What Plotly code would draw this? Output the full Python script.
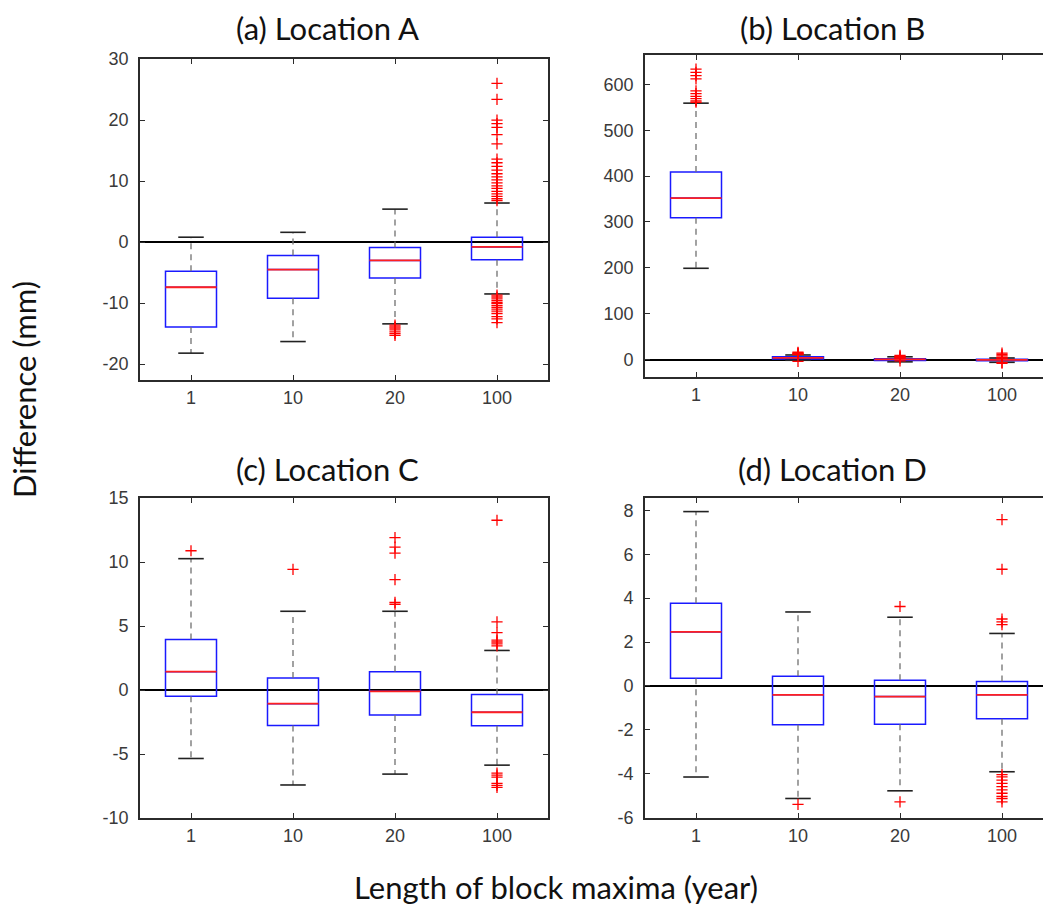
import plotly.graph_objects as go

# ---------------- data ----------------
categories = ["1", "10", "20", "100"]

# Panel (a) Location A
a_q1 = [-13.9, -9.2, -5.9, -2.9]
a_med = [-7.4, -4.5, -3.0, -0.8]
a_q3 = [-4.8, -2.2, -0.9, 0.8]
a_lo = [-18.2, -16.3, -13.4, -8.5]
a_hi = [0.8, 1.6, 5.4, 6.4]
a_out = [
    [],
    [],
    [-13.6, -13.9, -14.1, -14.4, -14.7, -15.0, -15.3],
    [26.0, 23.4, 20.0, 19.4, 18.8, 17.6, 16.1, 13.6, 13.0, 12.4, 11.8, 11.2,
     10.7, 10.2, 9.7, 9.2, 8.8, 8.3, 7.9, 7.5, 7.1, 6.8,
     -8.7, -9.0, -9.3, -9.6, -9.9, -10.1, -10.4, -10.7, -11.0, -11.3, -11.7,
     -12.2, -12.6, -13.2],
]

# Panel (b) Location B
b_q1 = [309, 1.0, -2.0, -2.5]
b_med = [352, 3.5, 0.5, -0.5]
b_q3 = [409, 6.0, 2.0, 0.5]
b_lo = [199, -1.5, -5.0, -6.0]
b_hi = [559, 10.0, 6.0, 3.5]
b_out = [
    [633, 626, 619, 612, 586, 580, 574, 569, 564, 561],
    [12, 14, 16, 11, 13, -4],
    [5, 7, 9, 3, 4, -3],
    [8, 11, 14, 5, 4, -6, -8, 3],
]

# Panel (c) Location C
c_q1 = [-0.49, -2.78, -1.95, -2.8]
c_med = [1.43, -1.07, -0.1, -1.74]
c_q3 = [3.95, 0.93, 1.43, -0.36]
c_lo = [-5.35, -7.42, -6.57, -5.87]
c_hi = [10.26, 6.15, 6.15, 3.09]
c_out = [
    [10.88],
    [9.42],
    [11.9, 11.16, 10.7, 8.62, 6.85, 6.7],
    [13.26, 5.32, 4.49, 3.9, 3.75, 3.6, 3.45, -6.5, -6.65, -6.8, -7.3, -7.45, -7.6],
]

# Panel (d) Location D
d_q1 = [0.35, -1.78, -1.75, -1.5]
d_med = [2.46, -0.41, -0.49, -0.41]
d_q3 = [3.77, 0.44, 0.26, 0.2]
d_lo = [-4.16, -5.14, -4.79, -3.92]
d_hi = [7.95, 3.37, 3.13, 2.39]
d_out = [
    [],
    [-5.41],
    [3.62, -5.29],
    [7.58, 5.32, 3.05, 2.92, 2.79, -4.05, -4.15, -4.3, -4.45, -4.6, -4.75,
     -4.9, -5.05, -5.15, -5.29],
]

titles = ["(a) Location A", "(b) Location B", "(c) Location C", "(d) Location D"]
y_ticks = [
    [-20, -10, 0, 10, 20, 30],
    [0, 100, 200, 300, 400, 500, 600],
    [-10, -5, 0, 5, 10, 15],
    [-6, -4, -2, 0, 2, 4, 6, 8],
]
y_ranges = [[-22.6, 30.0], [-38, 664], [-10, 15], [-6.03, 8.57]]

panels = [
    (a_q1, a_med, a_q3, a_lo, a_hi, a_out),
    (b_q1, b_med, b_q3, b_lo, b_hi, b_out),
    (c_q1, c_med, c_q3, c_lo, c_hi, c_out),
    (d_q1, d_med, d_q3, d_lo, d_hi, d_out),
]

# ---------------- layout geometry (pixels) ----------------
W, H = 1043, 909
px_x = [(140, 548), (645, 1043), (140, 548), (645, 1043)]
px_y = [(59, 380), (55, 377), (498, 818), (498, 818)]
x_ranges = [[0.5, 4.5], [0.5, 4.402], [0.5, 4.5], [0.5, 4.402]]

BOX_W = 0.5
CAP_HALF = 0.125
AX_COLOR = "#2b2b2b"
TICK_FONT = dict(family="Liberation Sans, Arial, sans-serif", size=18, color="#3a3a3a")
LABEL_FONT = dict(family="Lato, sans-serif", size=31, color="#111111")

fig = go.Figure()
pos = list(range(1, len(categories) + 1))

for k, (q1, med, q3, lo, hi, outs) in enumerate(panels):
    n = "" if k == 0 else str(k + 1)
    xa, ya = "x" + n, "y" + n

    # box body
    fig.add_trace(go.Box(
        x=pos, q1=q1, median=med, q3=q3, lowerfence=q1, upperfence=q3,
        width=BOX_W, whiskerwidth=0, boxpoints=False,
        line=dict(color="#1a1aff", width=1.5), fillcolor="rgba(0,0,0,0)",
        xaxis=xa, yaxis=ya, showlegend=False, hoverinfo="skip",
    ))

    # whiskers (dashed)
    wx, wy = [], []
    for p, a, b, c, d in zip(pos, q3, hi, q1, lo):
        wx += [p, p, None, p, p, None]
        wy += [a, b, None, c, d, None]
    fig.add_trace(go.Scatter(
        x=wx, y=wy, mode="lines", line=dict(color="#707070", width=1.3, dash="6px,5px"),
        xaxis=xa, yaxis=ya, showlegend=False, hoverinfo="skip",
    ))

    # caps
    cx, cy = [], []
    for p, b, d in zip(pos, hi, lo):
        cx += [p - CAP_HALF, p + CAP_HALF, None, p - CAP_HALF, p + CAP_HALF, None]
        cy += [b, b, None, d, d, None]
    fig.add_trace(go.Scatter(
        x=cx, y=cy, mode="lines", line=dict(color="#222222", width=1.6),
        xaxis=xa, yaxis=ya, showlegend=False, hoverinfo="skip",
    ))

    # medians
    mx, my = [], []
    for p, m in zip(pos, med):
        mx += [p - BOX_W / 2, p + BOX_W / 2, None]
        my += [m, m, None]
    fig.add_trace(go.Scatter(
        x=mx, y=my, mode="lines", line=dict(color="#ff2020", width=1.8),
        xaxis=xa, yaxis=ya, showlegend=False, hoverinfo="skip",
    ))

    # outliers
    ox, oy = [], []
    for p, vals in zip(pos, outs):
        ox += [p] * len(vals)
        oy += vals
    fig.add_trace(go.Scatter(
        x=ox, y=oy, mode="markers",
        marker=dict(symbol="cross-thin", size=8, line=dict(color="#ff0000", width=1.3)),
        xaxis=xa, yaxis=ya, showlegend=False, hoverinfo="skip",
    ))

    right_cut = px_x[k][1] >= W
    x0, x1 = px_x[k]
    y0, y1 = px_y[k]
    fig.layout["xaxis" + n] = dict(
        domain=[x0 / W, x1 / W], range=x_ranges[k], anchor=ya,
        tickmode="array", tickvals=pos, ticktext=categories,
        ticks="inside", ticklen=5, tickwidth=1.3, tickcolor=AX_COLOR,
        showline=True, linecolor=AX_COLOR, linewidth=1.8, mirror="allticks",
        showgrid=False, zeroline=False, tickfont=TICK_FONT, fixedrange=True,
        automargin=False,
    )
    fig.layout["yaxis" + n] = dict(
        domain=[1 - y1 / H, 1 - y0 / H], range=y_ranges[k], anchor=xa,
        tickmode="array", tickvals=y_ticks[k], ticktext=[str(v) for v in y_ticks[k]],
        ticks="inside", ticklen=5, tickwidth=1.3, tickcolor=AX_COLOR,
        showline=True, linecolor=AX_COLOR, linewidth=1.8,
        mirror=False if right_cut else "allticks",
        showgrid=False, zeroline=True, zerolinecolor="#000000", zerolinewidth=2.4,
        tickfont=TICK_FONT, ticklabelstandoff=6, fixedrange=True, automargin=False,
    )

    cx_title = (327 if k in (0, 2) else 832) / W
    cy_title = 1 - (28 if k < 2 else 469) / H
    fig.add_annotation(text=titles[k], x=cx_title, y=cy_title, xref="paper", yref="paper",
                       xanchor="center", yanchor="middle", showarrow=False, font=LABEL_FONT)

fig.add_annotation(text="Difference (mm)", x=24 / W, y=1 - 390 / H, xref="paper", yref="paper",
                   xanchor="center", yanchor="middle", textangle=-90, showarrow=False,
                   font=LABEL_FONT)
fig.add_annotation(text="Length of block maxima (year)", x=556 / W, y=1 - 887 / H,
                   xref="paper", yref="paper", xanchor="center", yanchor="middle",
                   showarrow=False, font=LABEL_FONT)

fig.update_layout(
    width=W, height=H, margin=dict(l=0, r=0, t=0, b=0, autoexpand=False),
    paper_bgcolor="white", plot_bgcolor="white", boxmode="overlay",
    showlegend=False,
)

fig.write_html("out.html")
